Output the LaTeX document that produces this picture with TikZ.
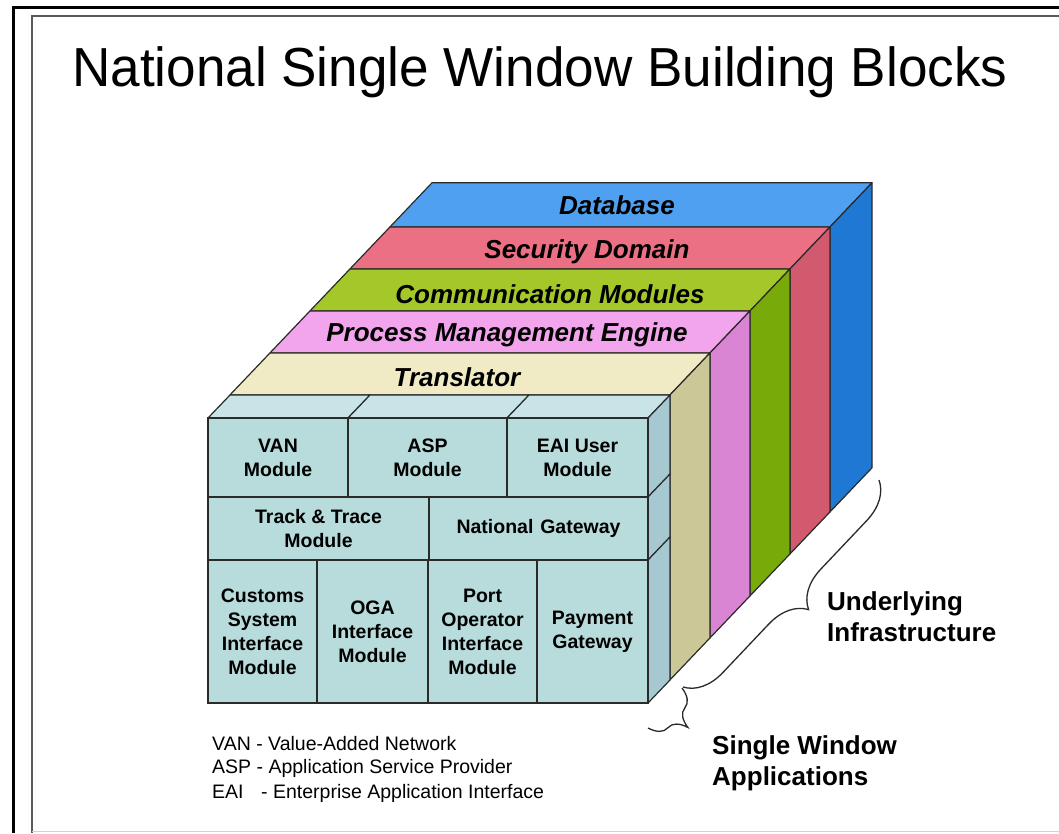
\documentclass[tikz,border=0pt]{standalone}
\usepackage{fontspec}
\setmainfont{Liberation Sans}
\usetikzlibrary{decorations.pathreplacing,calc}
\definecolor{dbtop}{HTML}{4FA0F0}
\definecolor{dbside}{HTML}{1E78D4}
\definecolor{sectop}{HTML}{EC7084}
\definecolor{secside}{HTML}{D25A6E}
\definecolor{comtop}{HTML}{A4C82A}
\definecolor{comside}{HTML}{78AA0A}
\definecolor{proctop}{HTML}{F2A4EC}
\definecolor{procside}{HTML}{DA84D4}
\definecolor{trtop}{HTML}{F0EBC4}
\definecolor{trside}{HTML}{CCC796}
\definecolor{modfront}{HTML}{B8DCDC}
\definecolor{modtop}{HTML}{C8E4E6}
\definecolor{modside}{HTML}{A6C8D0}
\definecolor{edgecol}{HTML}{2A2A2A}
\def\xLft{208}\def\xRgt{648}\def\yTop{418}\def\yBot{703}\def\kk{1.05}
\newcommand\slabfaces[4]{%
  \filldraw[fill=#3, faceedge] (\xLft+#1,\yTop-\kk*#1) -- (\xRgt+#1,\yTop-\kk*#1) -- (\xRgt+#2,\yTop-\kk*#2) -- (\xLft+#2,\yTop-\kk*#2) -- cycle;
  \filldraw[fill=#4, faceedge] (\xRgt+#1,\yTop-\kk*#1) -- (\xRgt+#2,\yTop-\kk*#2) -- (\xRgt+#2,\yBot-\kk*#2) -- (\xRgt+#1,\yBot-\kk*#1) -- cycle;}
\tikzset{
  faceedge/.style={draw=edgecol, line width=1.2pt, line join=round},
  modbox/.style={rectangle, draw=edgecol, line width=1.5pt, fill=modfront, inner sep=0pt, align=center,
     font=\bfseries\fontsize{19.5}{24}\selectfont},
  layerlbl/.style={font=\bfseries\itshape\fontsize{26}{30}\selectfont, inner sep=0pt},
  legend/.style={font=\fontsize{19.5}{23}\selectfont, anchor=west, inner sep=0pt},
  sidelbl/.style={font=\bfseries\fontsize{26}{31}\selectfont, align=left, anchor=west, inner sep=0pt},
  bracestyle/.style={draw=edgecol, line width=1.3pt, decorate},
}
\begin{document}
\begin{tikzpicture}[x=1pt,y=-1pt]
\useasboundingbox (0,0) rectangle (1059,833);
\fill[white] (0,0) rectangle (1059,833);
% frame
\draw[line width=3pt] (13,833) -- (13,7) -- (1059,7);
\draw[gray!70!black, line width=2pt] (32,833) -- (32,16) -- (1059,16);
\draw[gray!35, line width=1pt] (32,831) -- (1059,831);
% title
\node[font=\fontsize{55}{62}\selectfont, anchor=base west, inner sep=0pt, xscale=0.965] (title) at (72,86) {National Single Window Building Blocks};
% slabs back to front
\slabfaces{182}{224}{dbtop}{dbside}
\slabfaces{142}{182}{sectop}{secside}
\slabfaces{102}{142}{comtop}{comside}
\slabfaces{62}{102}{proctop}{procside}
\slabfaces{22}{62}{trtop}{trside}
% module block tops (row 1 boxes)
\foreach \a/\b in {208/348,348/507,507/648}{
  \filldraw[fill=modtop, faceedge] (\a,418) -- (\b,418) -- (\b+22,395) -- (\a+22,395) -- cycle;
}
% module block sides
\filldraw[fill=modside, faceedge] (648,418) -- (670,395) -- (670,474) -- (648,497) -- cycle;
\filldraw[fill=modside, faceedge] (648,497) -- (670,474) -- (670,537) -- (648,560) -- cycle;
\filldraw[fill=modside, faceedge] (648,560) -- (670,537) -- (670,680) -- (648,703) -- cycle;
% module front boxes
\node[modbox, minimum width=140pt, minimum height=79pt] (van) at (278,457.5) {VAN\\Module};
\node[modbox, minimum width=159pt, minimum height=79pt] (asp) at (427.5,457.5) {ASP\\Module};
\node[modbox, minimum width=141pt, minimum height=79pt] (eai) at (577.5,457.5) {EAI User\\Module};
\node[modbox, minimum width=221pt, minimum height=63pt] (track) at (318.5,528.5) {Track \& Trace\\Module};
\node[modbox, minimum width=219pt, minimum height=63pt] (natgw) at (538.5,528.5) {National\hspace{0.35em}Gateway};
\node[modbox, minimum width=109pt, minimum height=143pt] (customs) at (262.5,631.5) {Customs\\System\\Interface\\Module};
\node[modbox, minimum width=111pt, minimum height=143pt] (oga) at (372.5,631.5) {OGA\\Interface\\Module};
\node[modbox, minimum width=109pt, minimum height=143pt] (port) at (482.5,631.5) {Port\\Operator\\Interface\\Module};
\node[modbox, minimum width=111pt, minimum height=143pt] (pay) at (592.5,631.5) {Payment\\Gateway};
% layer labels
\node[layerlbl] (db) at (617,205) {Database};
\node[layerlbl] (sec) at (587,252) {Security Domain};
\node[layerlbl] (com) at (550,294) {Communication Modules};
\node[layerlbl] (proc) at (507,335) {Process Management Engine};
\node[layerlbl] (trans) at (457,377) {Translator};
% braces
\coordinate (ib1) at (683,687);
\coordinate (ib2) at (879,480);
\draw[bracestyle, decoration={brace, amplitude=38pt, mirror}] (ib1) -- (ib2);
\coordinate (sb1) at (648,728);
\coordinate (sb2) at (682,688);
\draw[bracestyle, decoration={brace, amplitude=30pt, mirror}] (sb1) -- (sb2);
% side labels
\node[sidelbl] (infra) at (827,617) {Underlying\\Infrastructure};
\node[sidelbl] (swapp) at (712,763) {Single Window\\Applications};
% legend
\node[legend] (lg1) at (212,744) {VAN - Value-Added Network};
\node[legend] (lg2) at (212,768) {ASP - Application Service Provider};
\node[legend] (lg3) at (212,793) {EAI\hspace{0.9em}- Enterprise Application Interface};
\end{tikzpicture}
\end{document}
